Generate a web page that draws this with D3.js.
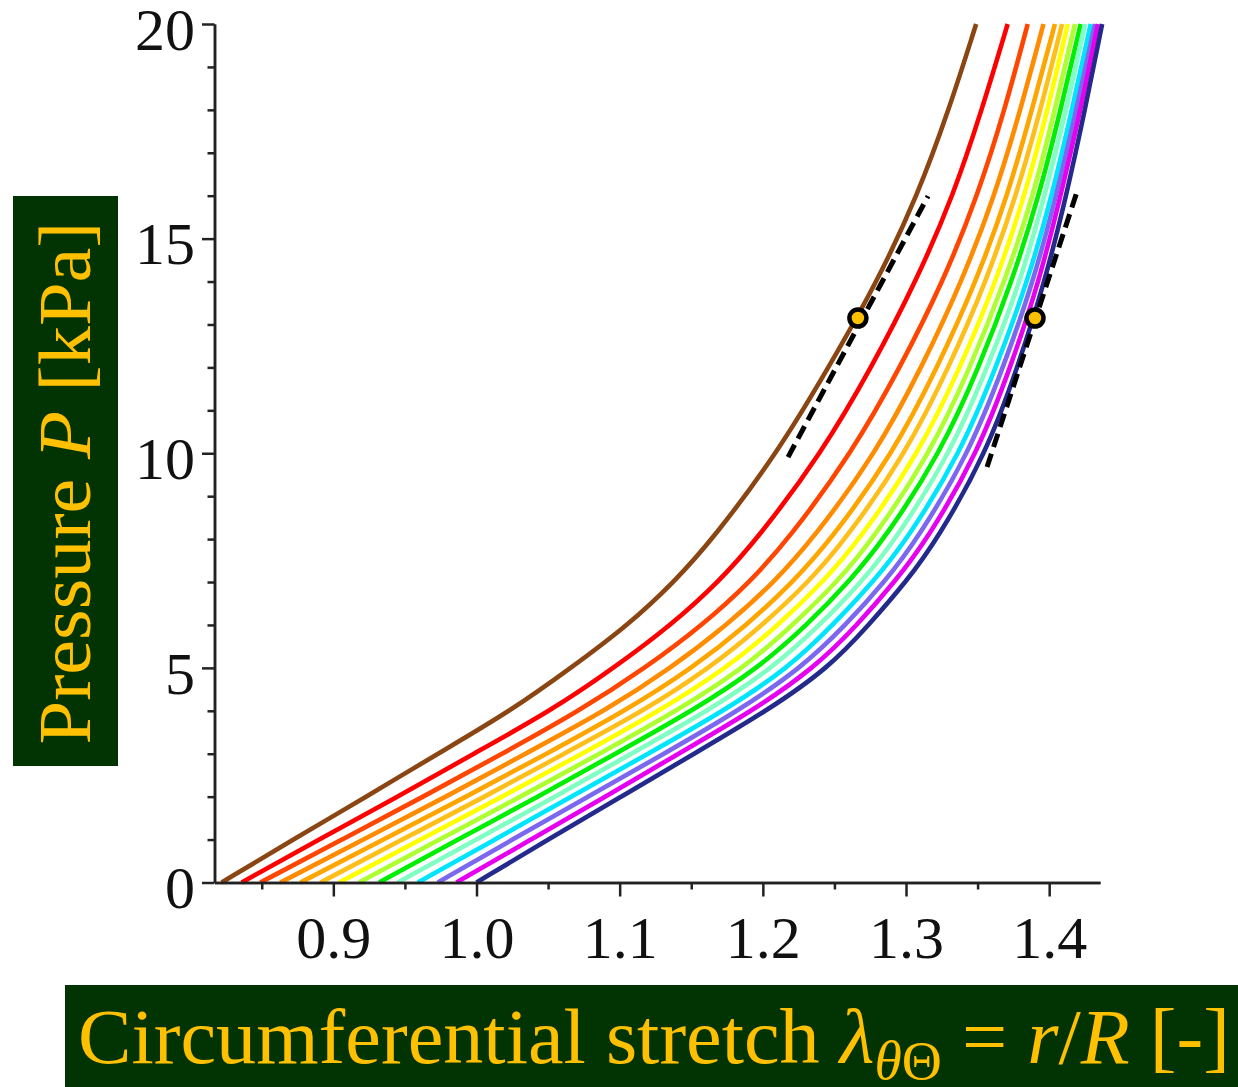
<!DOCTYPE html>
<html>
<head>
<meta charset="utf-8">
<script src="https://cdn.jsdelivr.net/npm/d3@7"></script>
<style>
  html, body { margin: 0; padding: 0; background: #ffffff; }
  svg { display: block; }
</style>
</head>
<body>
<svg id="chart" width="1238" height="1087"></svg>
<script>
// Inflation pressure levels (kPa) at which each stretch curve is sampled
const pressure = [0, 1, 2, 3, 4, 5, 6, 7, 8, 10, 12, 14, 16, 18, 20];

// Circumferential stretch at each pressure level, one array per curve
const brown       = [0.822, 0.872, 0.923, 0.973, 1.024, 1.066, 1.106, 1.138, 1.165, 1.210, 1.246, 1.280, 1.308, 1.330, 1.349];
const red         = [0.836, 0.890, 0.945, 0.998, 1.052, 1.096, 1.136, 1.169, 1.196, 1.241, 1.276, 1.307, 1.333, 1.353, 1.371];
const orangeRed   = [0.849, 0.906, 0.963, 1.018, 1.072, 1.118, 1.158, 1.191, 1.218, 1.262, 1.296, 1.326, 1.350, 1.369, 1.385];
const darkOrange  = [0.863, 0.921, 0.979, 1.034, 1.090, 1.136, 1.175, 1.208, 1.235, 1.279, 1.311, 1.339, 1.362, 1.380, 1.396];
const orange      = [0.877, 0.935, 0.993, 1.049, 1.104, 1.151, 1.189, 1.221, 1.248, 1.291, 1.322, 1.349, 1.371, 1.388, 1.404];
const gold        = [0.891, 0.948, 1.006, 1.061, 1.117, 1.163, 1.200, 1.232, 1.258, 1.300, 1.330, 1.356, 1.377, 1.394, 1.409];
const yellow      = [0.904, 0.961, 1.018, 1.074, 1.128, 1.175, 1.211, 1.242, 1.268, 1.309, 1.338, 1.363, 1.383, 1.399, 1.413];
const greenYellow = [0.918, 0.974, 1.031, 1.086, 1.140, 1.187, 1.221, 1.252, 1.277, 1.317, 1.345, 1.369, 1.389, 1.404, 1.418];
const green       = [0.932, 0.987, 1.043, 1.097, 1.151, 1.197, 1.231, 1.260, 1.285, 1.324, 1.351, 1.374, 1.393, 1.408, 1.422];
const aquamarine  = [0.945, 1.000, 1.055, 1.108, 1.162, 1.207, 1.240, 1.269, 1.293, 1.331, 1.357, 1.380, 1.397, 1.412, 1.425];
const cyan        = [0.959, 1.013, 1.066, 1.120, 1.173, 1.218, 1.249, 1.277, 1.301, 1.338, 1.363, 1.385, 1.402, 1.416, 1.429];
const slateBlue   = [0.973, 1.025, 1.078, 1.131, 1.183, 1.227, 1.258, 1.285, 1.308, 1.344, 1.368, 1.389, 1.405, 1.419, 1.432];
const magenta     = [0.986, 1.038, 1.090, 1.141, 1.193, 1.236, 1.266, 1.292, 1.315, 1.350, 1.373, 1.393, 1.408, 1.422, 1.434];
const navy        = [1.000, 1.050, 1.101, 1.152, 1.203, 1.246, 1.274, 1.300, 1.322, 1.356, 1.378, 1.397, 1.412, 1.425, 1.437];

const curves = [brown, red, orangeRed, darkOrange, orange, gold, yellow,
                greenYellow, green, aquamarine, cyan, slateBlue, magenta, navy];
const curveColors = ["#8b4513", "#ff0000", "#ff4500", "#ff8c00", "#ffa500", "#ffbf1a", "#ffff00",
                     "#adff2f", "#00ee00", "#7fffc4", "#00e5ff", "#7b68ee", "#e600f0", "#232a8c"];

// Axis ticks
const xTickValues  = [0.9, 1.0, 1.1, 1.2, 1.3, 1.4];
const xMinorValues = [0.85, 0.95, 1.05, 1.15, 1.25, 1.35];
const yTickValues  = [0, 5, 10, 15, 20];
const yMinorValues = [1, 2, 3, 4, 6, 7, 8, 9, 11, 12, 13, 14, 16, 17, 18, 19];

// Marked operating points and their tangent lines
const markerStretch  = [1.2664, 1.3901];
const markerPressure = [13.15, 13.15];
const tangentStretch  = [[1.2176, 1.3154], [1.3566, 1.4194]];
const tangentPressure = [[9.91, 15.99], [9.68, 16.09]];

const svg = d3.select("#chart");
const serif = "'Liberation Serif', 'Times New Roman', serif";

const x = d3.scaleLinear().domain([0.817, 1.4355]).range([214.5, 1100]);
const y = d3.scaleLinear().domain([0, 20]).range([882.5, 24]);

// Stress-stretch curves (smooth B-spline through the sampled levels)
const line = d3.line()
  .x(d => x(d[0]))
  .y(d => y(d[1]))
  .curve(d3.curveBasis);

svg.append("g")
  .selectAll("path")
  .data(curves)
  .join("path")
  .attr("d", c => line(c.map((l, i) => [l, pressure[i]])))
  .attr("fill", "none")
  .attr("stroke", (c, i) => curveColors[i])
  .attr("stroke-width", 4.6)
  .attr("stroke-linecap", "butt");

// Axes
const axisColor = "#222";
function styleAxis(g) {
  g.select(".domain").attr("stroke", axisColor).attr("stroke-width", 2.5);
  g.selectAll(".tick line").attr("stroke", axisColor).attr("stroke-width", 2.5);
  g.selectAll(".tick text").attr("fill", "#111").attr("font-family", serif).attr("font-size", 60);
}

svg.append("g")
  .attr("transform", `translate(0,${y(0)})`)
  .call(d3.axisBottom(x).tickValues(xMinorValues).tickSize(7).tickSizeOuter(0).tickFormat(""))
  .call(styleAxis);
const xAxis = svg.append("g")
  .attr("transform", `translate(0,${y(0)})`)
  .call(d3.axisBottom(x).tickValues(xTickValues).tickSize(14).tickSizeOuter(0).tickFormat(d3.format(".1f")))
  .call(styleAxis);
xAxis.selectAll(".tick text").attr("y", 75.5).attr("dy", 0);

svg.append("g")
  .attr("transform", `translate(${x.range()[0]},0)`)
  .call(d3.axisLeft(y).tickValues(yMinorValues).tickSize(7).tickSizeOuter(0).tickFormat(""))
  .call(styleAxis);
const yAxis = svg.append("g")
  .attr("transform", `translate(${x.range()[0]},0)`)
  .call(d3.axisLeft(y).tickValues(yTickValues).tickSize(12.5).tickSizeOuter(0).tickPadding(7).tickFormat(d3.format("d")))
  .call(styleAxis);
yAxis.selectAll(".tick text").attr("dy", "0.42em");

// Tangent lines at the marked points
svg.append("g")
  .selectAll("line")
  .data(tangentStretch)
  .join("line")
  .attr("x1", (d) => x(d[0]))
  .attr("x2", (d) => x(d[1]))
  .attr("y1", (d, i) => y(tangentPressure[i][0]))
  .attr("y2", (d, i) => y(tangentPressure[i][1]))
  .attr("stroke", "#000")
  .attr("stroke-width", 5)
  .attr("stroke-dasharray", "14,7");

// Marked points
svg.append("g")
  .selectAll("circle")
  .data(markerStretch)
  .join("circle")
  .attr("cx", d => x(d))
  .attr("cy", (d, i) => y(markerPressure[i]))
  .attr("r", 8.5)
  .attr("fill", "#ffc000")
  .attr("stroke", "#000")
  .attr("stroke-width", 4.5);

// Axis titles on dark boxes
const boxFill = "#023302";
const titleFill = "#ffc000";

svg.append("rect").attr("x", 13).attr("y", 196).attr("width", 105).attr("height", 570).attr("fill", boxFill);
const yTitle = svg.append("text")
  .attr("transform", "translate(90,483) rotate(-90)")
  .attr("text-anchor", "middle")
  .attr("font-family", serif)
  .attr("font-size", 74)
  .attr("fill", titleFill)
  .attr("textLength", 523)
  .attr("lengthAdjust", "spacingAndGlyphs");
yTitle.append("tspan").text("Pressure ");
yTitle.append("tspan").attr("font-style", "italic").text("P");
yTitle.append("tspan").text(" [kPa]");

svg.append("rect").attr("x", 65).attr("y", 985).attr("width", 1173).attr("height", 102).attr("fill", boxFill);
const xTitle = svg.append("text")
  .attr("x", 78)
  .attr("y", 1063)
  .attr("font-family", serif)
  .attr("font-size", 78)
  .attr("fill", titleFill)
  .attr("textLength", 1152)
  .attr("lengthAdjust", "spacingAndGlyphs");
xTitle.append("tspan").text("Circumferential stretch ");
xTitle.append("tspan").attr("font-style", "italic").text("λ");
xTitle.append("tspan").attr("font-size", 54).attr("dy", 16).attr("font-style", "italic").text("θ");
xTitle.append("tspan").attr("font-size", 54).text("Θ");
xTitle.append("tspan").attr("dy", -16).text(" = ");
xTitle.append("tspan").attr("font-style", "italic").text("r");
xTitle.append("tspan").text("/");
xTitle.append("tspan").attr("font-style", "italic").text("R");
xTitle.append("tspan").text(" [-]");
</script>
</body>
</html>
